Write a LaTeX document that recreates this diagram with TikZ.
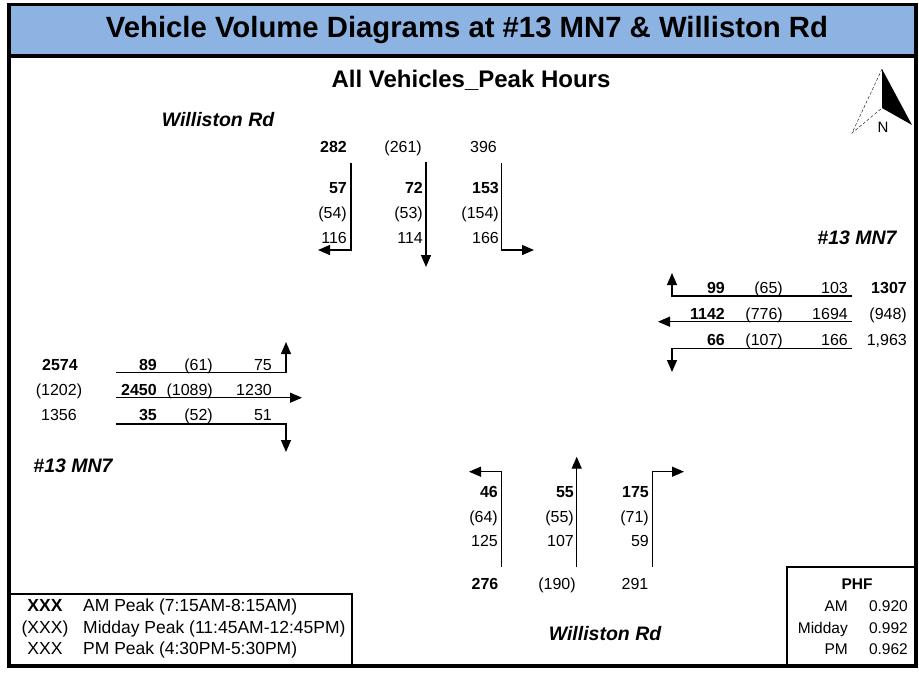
\documentclass[tikz,border=0pt]{standalone}
\usepackage{fontspec}
\setmainfont{Liberation Sans}
\usetikzlibrary{arrows.meta}

\definecolor{bandblue}{HTML}{8DB3E2}
\newcommand\numsize{\fontsize{16}{19}\selectfont}
\newcommand\keysize{\fontsize{17.5}{20}\selectfont}
\newcommand\phfsize{\fontsize{15.5}{18}\selectfont}
\newcommand\roadsize{\fontsize{19.5}{22}\selectfont}

\begin{document}
\begin{tikzpicture}[
    x=1pt, y=-1pt,
    vol/.style = {inner sep=0pt, anchor=base east, font=\numsize},
    am/.style = {vol, font=\numsize\bfseries},
    tot/.style = {inner sep=0pt, anchor=base, font=\numsize},
    road/.style = {inner sep=0pt, font=\roadsize\bfseries\itshape},
    mv/.style = {line width=1.3pt},
    mva/.style = {mv, -{Triangle[length=12pt,width=10pt]}},
    frameline/.style = {line width=3.5pt},
    boxline/.style = {line width=2.2pt},
    ]
    \useasboundingbox (0,0) rectangle (919,673);

    % frame and title band
    \fill[bandblue] (9,4.5) rectangle (916,56);
    \draw[frameline] (9,4.5) rectangle (916,666);
    \draw[frameline] (9,56) -- (916,56);
    \node[font=\fontsize{29.3}{33}\selectfont\bfseries] (title) at (467,30) {Vehicle Volume Diagrams at \#13 MN7 \& Williston Rd};
    \node[font=\fontsize{24}{28}\selectfont\bfseries] (subtitle) at (471,80) {All Vehicles\_Peak Hours};

    % north arrow
    \coordinate (ntip) at (882,69);
    \coordinate (nmid) at (882,108);
    \coordinate (nright) at (912,125);
    \coordinate (nleft) at (852,133);
    \fill (ntip) -- (nright) -- (nmid) -- cycle;
    \draw[densely dashed, thin] (ntip) -- (nleft) -- (nmid);
    \node[inner sep=0pt, font=\fontsize{15}{18}\selectfont] (nlab) at (883,127) {N};

    % road names
    \node[road] (rdN) at (218,120) {Williston Rd};
    \node[road] (rdE) at (857,238) {\#13 MN7};
    \node[road] (rdW) at (73,466) {\#13 MN7};
    \node[road] (rdS) at (605,634) {Williston Rd};

    % north leg (southbound)
    \node[am]  (nT1) at (347,152.5) {282};
    \node[vol] (nT2) at (422,152.5) {(261)};
    \node[vol] (nT3) at (497,152.5) {396};
    \node[am]  (nL1) at (347,193) {57};
    \node[vol] (nL2) at (347,218) {(54)};
    \node[vol] (nL3) at (347,243) {116};
    \node[am]  (nS1) at (423,193) {72};
    \node[vol] (nS2) at (423,218) {(53)};
    \node[vol] (nS3) at (423,243) {114};
    \node[am]  (nR1) at (499,193) {153};
    \node[vol] (nR2) at (499,218) {(154)};
    \node[vol] (nR3) at (499,243) {166};
    \coordinate (nLa) at (351,163);
    \coordinate (nLb) at (351,250);
    \coordinate (nLc) at (318,250);
    \coordinate (nSa) at (426,162);
    \coordinate (nSb) at (426,267);
    \coordinate (nRa) at (501.5,163);
    \coordinate (nRb) at (501.5,250);
    \coordinate (nRc) at (534,250);
    \draw[mva] (nLa) -- (nLb) -- (nLc);
    \draw[mva] (nSa) -- (nSb);
    \draw[mva] (nRa) -- (nRb) -- (nRc);

    % east leg (westbound)
    \node[am]  (eR1) at (725,293.5) {99};
    \node[vol] (eR2) at (783,293.5) {(65)};
    \node[vol] (eR3) at (848,293.5) {103};
    \node[am]  (eT1) at (907,293.5) {1307};
    \node[am]  (eS1) at (725,319.5) {1142};
    \node[vol] (eS2) at (783,319.5) {(776)};
    \node[vol] (eS3) at (848,319.5) {1694};
    \node[vol] (eT2) at (907,319.5) {(948)};
    \node[am]  (eL1) at (725,345.5) {66};
    \node[vol] (eL2) at (783,345.5) {(107)};
    \node[vol] (eL3) at (848,345.5) {166};
    \node[vol] (eT3) at (907,345.5) {1,963};
    \coordinate (eRa) at (852,296);
    \coordinate (eRb) at (672,296);
    \coordinate (eRc) at (672,273);
    \coordinate (eSa) at (852,321.7);
    \coordinate (eSb) at (658,321.7);
    \coordinate (eLa) at (852,348.3);
    \coordinate (eLb) at (672,348.3);
    \coordinate (eLc) at (672,372);
    \draw[mva] (eRa) -- (eRb) -- (eRc);
    \draw[mva] (eSa) -- (eSb);
    \draw[mva] (eLa) -- (eLb) -- (eLc);

    % west leg (eastbound)
    \node[tot, font=\numsize\bfseries] (wT1) at (60,370.7) {2574};
    \node[tot] (wT2) at (59,395.7) {(1202)};
    \node[tot] (wT3) at (59,420.7) {1356};
    \node[am]  (wL1) at (157,370.7) {89};
    \node[vol] (wL2) at (213,370.7) {(61)};
    \node[vol] (wL3) at (272,370.7) {75};
    \node[am]  (wS1) at (157,395.7) {2450};
    \node[vol] (wS2) at (213,395.7) {(1089)};
    \node[vol] (wS3) at (272,395.7) {1230};
    \node[am]  (wR1) at (157,420.7) {35};
    \node[vol] (wR2) at (213,420.7) {(52)};
    \node[vol] (wR3) at (272,420.7) {51};
    \coordinate (wLa) at (116,372.3);
    \coordinate (wLb) at (286,372.3);
    \coordinate (wLc) at (286,342);
    \coordinate (wSa) at (116,397.7);
    \coordinate (wSb) at (302,397.7);
    \coordinate (wRa) at (116,424);
    \coordinate (wRb) at (286,424);
    \coordinate (wRc) at (286,452);
    \draw[mva] (wLa) -- (wLb) -- (wLc);
    \draw[mva] (wSa) -- (wSb);
    \draw[mva] (wRa) -- (wRb) -- (wRc);

    % south leg (northbound)
    \node[am]  (sL1) at (498,497.4) {46};
    \node[vol] (sL2) at (498,522) {(64)};
    \node[vol] (sL3) at (498,546) {125};
    \node[am]  (sS1) at (574,497.4) {55};
    \node[vol] (sS2) at (574,522) {(55)};
    \node[vol] (sS3) at (574,546) {107};
    \node[am]  (sR1) at (649,497.4) {175};
    \node[vol] (sR2) at (649,522) {(71)};
    \node[vol] (sR3) at (649,546) {59};
    \node[tot, font=\numsize\bfseries] (sT1) at (485,589) {276};
    \node[tot] (sT2) at (557,589) {(190)};
    \node[tot] (sT3) at (635,589) {291};
    \coordinate (sLa) at (501.5,566.7);
    \coordinate (sLb) at (501.5,471.7);
    \coordinate (sLc) at (469,471.7);
    \coordinate (sSa) at (576.7,566.7);
    \coordinate (sSb) at (576.7,456.7);
    \coordinate (sRa) at (652.3,566.7);
    \coordinate (sRb) at (652.3,471.7);
    \coordinate (sRc) at (684,471.7);
    \draw[mva] (sLa) -- (sLb) -- (sLc);
    \draw[mva] (sSa) -- (sSb);
    \draw[mva] (sRa) -- (sRb) -- (sRc);

    % legend
    \draw[boxline] (9,594) -- (352,594) -- (352,666);
    \node[tot, font=\keysize\bfseries] (kAM) at (45,611) {XXX};
    \node[tot, font=\keysize] (kMD) at (45,633) {(XXX)};
    \node[tot, font=\keysize] (kPM) at (45,654.5) {XXX};
    \node[inner sep=0pt, anchor=base west, font=\keysize] (dAM) at (83,611) {AM Peak (7:15AM-8:15AM)};
    \node[inner sep=0pt, anchor=base west, font=\keysize] (dMD) at (83,633) {Midday Peak (11:45AM-12:45PM)};
    \node[inner sep=0pt, anchor=base west, font=\keysize] (dPM) at (83,654.5) {PM Peak (4:30PM-5:30PM)};

    % peak hour factors
    \draw[boxline] (787,666) -- (787,567) -- (916,567);
    \node[tot, font=\phfsize\bfseries] (phf) at (857,589) {PHF};
    \node[vol, font=\phfsize] (pAM) at (848,611) {AM};
    \node[vol, font=\phfsize] (pMD) at (848,633) {Midday};
    \node[vol, font=\phfsize] (pPM) at (848,654.5) {PM};
    \node[vol, font=\phfsize] (vAM) at (908,611) {0.920};
    \node[vol, font=\phfsize] (vMD) at (908,633) {0.992};
    \node[vol, font=\phfsize] (vPM) at (908,654.5) {0.962};
\end{tikzpicture}
\end{document}
